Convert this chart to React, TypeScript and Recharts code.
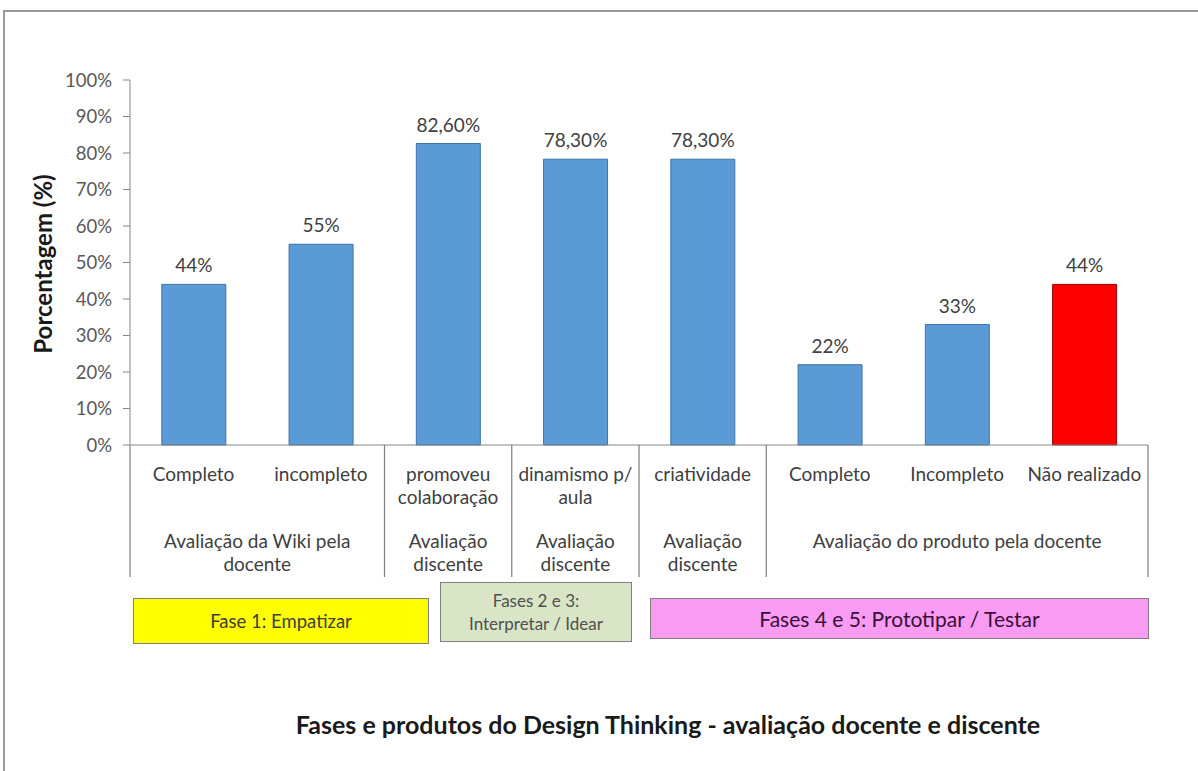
import React from 'react';
import { BarChart, Bar, XAxis, YAxis, Cell, LabelList } from 'recharts';

const categoryLabels = [
  'Completo',
  'incompleto',
  'promoveu\ncolaboração',
  'dinamismo p/\naula',
  'criatividade',
  'Completo',
  'Incompleto',
  'Não realizado',
];
const values = [44, 55, 82.6, 78.3, 78.3, 22, 33, 44];
const valueLabels = ['44%', '55%', '82,60%', '78,30%', '78,30%', '22%', '33%', '44%'];
const barColors = ['#5B9BD5', '#5B9BD5', '#5B9BD5', '#5B9BD5', '#5B9BD5', '#5B9BD5', '#5B9BD5', '#FF0000'];
const barStrokes = ['#3F73A8', '#3F73A8', '#3F73A8', '#3F73A8', '#3F73A8', '#3F73A8', '#3F73A8', '#A00000'];

// second level of the axis: group label and how many categories it covers
const groupLabels = [
  'Avaliação da Wiki pela\ndocente',
  'Avaliação\ndiscente',
  'Avaliação\ndiscente',
  'Avaliação\ndiscente',
  'Avaliação do produto pela docente',
];
const groupSpans = [2, 1, 1, 1, 3];

const yTicks = [0, 10, 20, 30, 40, 50, 60, 70, 80, 90, 100];

const W = 1198;
const H = 771;
const PLOT_LEFT = 130;
const PLOT_RIGHT = 1148;
const PLOT_TOP = 80;
const PLOT_BOTTOM = 445;
const BAND = (PLOT_RIGHT - PLOT_LEFT) / categoryLabels.length;
const FONT = 'Lato, "Open Sans", sans-serif';

const data = values.map((v, i) => ({ key: 'c' + i, value: v }));

const groupStart: number[] = [];
const groupEnd: number[] = [];
{
  let s = 0;
  groupSpans.forEach((n) => {
    groupStart.push(s);
    groupEnd.push(s + n - 1);
    s += n;
  });
}

function CategoryTick(props: any) {
  const { x, payload } = props;
  const i = payload.index;
  const lines = categoryLabels[i].split('\n');
  const g = groupStart.findIndex((s, k) => i >= s && i <= groupEnd[k]);
  const parts: React.ReactNode[] = [];

  lines.forEach((l, k) => (
    parts.push(
      <text key={'c' + k} x={x} y={PLOT_BOTTOM + 36 + k * 23} textAnchor="middle"
        fontSize={19} fill="#404040" fontFamily={FONT}>{l}</text>
    )
  ));

  if (i === groupStart[g]) {
    const cx = x + (groupSpans[g] - 1) * BAND / 2;
    groupLabels[g].split('\n').forEach((l, k) => (
      parts.push(
        <text key={'g' + k} x={cx} y={PLOT_BOTTOM + 103 + k * 23} textAnchor="middle"
          fontSize={19} fill="#404040" fontFamily={FONT}>{l}</text>
      )
    ));
    parts.push(
      <line key="sl" x1={x - BAND / 2} x2={x - BAND / 2} y1={PLOT_BOTTOM} y2={PLOT_BOTTOM + 132}
        stroke="#7f7f7f" strokeWidth={1.2} />
    );
  }
  if (i === categoryLabels.length - 1) {
    parts.push(
      <line key="sr" x1={x + BAND / 2} x2={x + BAND / 2} y1={PLOT_BOTTOM} y2={PLOT_BOTTOM + 132}
        stroke="#7f7f7f" strokeWidth={1.2} />
    );
  }
  return <g>{parts}</g>;
}

const boxStyle: React.CSSProperties = {
  position: 'absolute',
  boxSizing: 'border-box',
  border: '1.5px solid #7f7f7f',
  display: 'flex',
  flexDirection: 'column',
  alignItems: 'center',
  justifyContent: 'center',
  fontFamily: FONT,
  textAlign: 'center',
};

export default function App() {
  return (
    <div style={{ position: 'absolute', left: 0, top: 0, width: W, height: H, background: '#fff', overflow: 'hidden' }}>
      <div style={{ position: 'absolute', left: 3, top: 10, width: W, height: H, borderTop: '2px solid #9a9a9a', borderLeft: '2px solid #9a9a9a' }} />
      <BarChart
        width={W}
        height={H}
        data={data}
        margin={{ top: PLOT_TOP, right: W - PLOT_RIGHT, bottom: 0, left: 0 }}
        barCategoryGap="25%"
        style={{ position: 'absolute', left: 0, top: 0 }}
      >
        <YAxis
          width={PLOT_LEFT}
          domain={[0, 100]}
          ticks={yTicks}
          interval={0}
          tickFormatter={(v: number) => v + '%'}
          tick={{ fontSize: 18.5, fill: '#595959', fontFamily: FONT }}
          tickSize={7}
          tickMargin={11}
          stroke="#868686"
          label={{
            content: () => (
              <text transform="translate(52,264) rotate(-90)" textAnchor="middle" fontSize={24}
                fontWeight="bold" fill="#1a1a1a" fontFamily={FONT}>Porcentagem (%)</text>
            ),
          }}
        />
        <XAxis
          dataKey="key"
          height={H - PLOT_BOTTOM}
          interval={0}
          tickLine={false}
          stroke="#868686"
          tick={<CategoryTick />}
        />
        <Bar dataKey="value" isAnimationActive={false} strokeWidth={1}>
          {data.map((d, i) => (
            <Cell key={d.key} fill={barColors[i]} stroke={barStrokes[i]} />
          ))}
          <LabelList
            dataKey="value"
            position="top"
            content={(p: any) => (
              <text x={p.x + p.width / 2} y={p.y - 12} textAnchor="middle" fontSize={19}
                fill="#404040" fontFamily={FONT}>{valueLabels[p.index]}</text>
            )}
          />
        </Bar>
      </BarChart>

      <div style={{ ...boxStyle, left: 133, top: 598, width: 296, height: 46, background: '#FFFF00', color: '#404040', fontSize: 18.5 }}>
        Fase 1: Empatizar
      </div>
      <div style={{ ...boxStyle, left: 440, top: 582, width: 192, height: 60, background: '#D9E5C6', color: '#505050', fontSize: 17, lineHeight: '23px' }}>
        <span>Fases 2 e 3:</span>
        <span>Interpretar / Idear</span>
      </div>
      <div style={{ ...boxStyle, left: 650, top: 598, width: 499, height: 41, background: '#F79BF3', color: '#3a1038', fontSize: 21 }}>
        Fases 4 e 5: Prototipar / Testar
      </div>

      <div style={{ position: 'absolute', left: 0, width: W, top: 709, textAlign: 'center', paddingLeft: 2 * 668 - W, boxSizing: 'border-box', fontFamily: FONT, fontWeight: 'bold', fontSize: 25, color: '#1a1a1a' }}>
        Fases e produtos do Design Thinking - avaliação docente e discente
      </div>
    </div>
  );
}
